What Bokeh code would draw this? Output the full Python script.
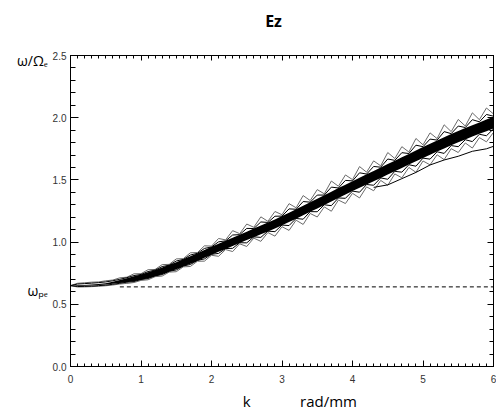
import numpy as np
from bokeh.plotting import figure
from bokeh.models import FixedTicker, LinearAxis, Range1d, CustomJSTickFormatter
from bokeh.embed import file_html
from bokeh.resources import INLINE

# ---------------- data ----------------
x_ticks = [0, 1, 2, 3, 4, 5, 6]
x_minor = [i / 10 for i in range(61)]
y_ticks = [0.0, 0.5, 1.0, 1.5, 2.0, 2.5]
y_tick_labels = ["0.0", "0.5", "1.0", "1.5", "2.0", "2.5"]
y_minor = [i / 10 for i in range(26)]

title_pos = [2.88]
title_text = ["Ez"]
y_label_pos = [2.46, 0.61]
y_label_text = ["ω/Ωₑ", "ωₚₑ"]
x_label_pos = [2.5, 3.66]
x_label_text = ["k", "rad/mm"]

omega_pe = 0.64
dash_k = [0.70, 6.0]

k_grid = [0.0, 0.1, 0.2, 0.3, 0.4, 0.5, 0.6, 0.7, 0.8, 0.9,
          1.0, 1.1, 1.2, 1.3, 1.4, 1.5, 1.6, 1.7, 1.8, 1.9,
          2.0, 2.1, 2.2, 2.3, 2.4, 2.5, 2.6, 2.7, 2.8, 2.9,
          3.0, 3.1, 3.2, 3.3, 3.4, 3.5, 3.6, 3.7, 3.8, 3.9,
          4.0, 4.1, 4.2, 4.3, 4.4, 4.5, 4.6, 4.7, 4.8, 4.9,
          5.0, 5.1, 5.2, 5.3, 5.4, 5.5, 5.6, 5.7, 5.8, 5.9, 6.0]

ridge = [0.650, 0.651, 0.653, 0.656, 0.660, 0.665, 0.673, 0.683, 0.694, 0.705,
         0.718, 0.733, 0.750, 0.769, 0.789, 0.810, 0.833, 0.856, 0.880, 0.905,
         0.930, 0.954, 0.978, 1.002, 1.026, 1.050, 1.074, 1.098, 1.122, 1.146,
         1.172, 1.199, 1.226, 1.254, 1.282, 1.310, 1.338, 1.366, 1.394, 1.422,
         1.450, 1.477, 1.504, 1.531, 1.558, 1.585, 1.612, 1.639, 1.666, 1.693,
         1.720, 1.746, 1.772, 1.798, 1.823, 1.848, 1.871, 1.894, 1.916, 1.938, 1.960]

core_hw = [0.000, 0.003, 0.003, 0.004, 0.004, 0.005, 0.008, 0.012, 0.016, 0.020,
           0.022, 0.024, 0.026, 0.027, 0.028, 0.029, 0.030, 0.030, 0.031, 0.031,
           0.032, 0.032, 0.033, 0.033, 0.034, 0.034, 0.035, 0.035, 0.036, 0.036,
           0.037, 0.037, 0.038, 0.038, 0.038, 0.039, 0.039, 0.039, 0.040, 0.040,
           0.040, 0.041, 0.041, 0.041, 0.042, 0.042, 0.042, 0.043, 0.043, 0.043,
           0.044, 0.044, 0.044, 0.045, 0.045, 0.045, 0.046, 0.046, 0.046, 0.047, 0.047]

up_outer = [0.000, 0.018, 0.020, 0.022, 0.020, 0.024, 0.022, 0.030, 0.024, 0.040,
            0.028, 0.045, 0.030, 0.050, 0.032, 0.055, 0.034, 0.058, 0.036, 0.065,
            0.038, 0.075, 0.040, 0.090, 0.042, 0.095, 0.045, 0.105, 0.045, 0.100,
            0.048, 0.110, 0.050, 0.120, 0.052, 0.112, 0.050, 0.125, 0.055, 0.118,
            0.052, 0.130, 0.058, 0.122, 0.055, 0.135, 0.060, 0.128, 0.058, 0.140,
            0.062, 0.132, 0.060, 0.145, 0.065, 0.138, 0.062, 0.145, 0.068, 0.140, 0.070]
up_inner = [0.000, 0.012, 0.013, 0.014, 0.014, 0.015, 0.016, 0.018, 0.020, 0.026,
            0.022, 0.030, 0.025, 0.034, 0.026, 0.038, 0.028, 0.040, 0.030, 0.044,
            0.031, 0.048, 0.032, 0.055, 0.034, 0.060, 0.035, 0.064, 0.036, 0.062,
            0.037, 0.068, 0.038, 0.072, 0.039, 0.068, 0.040, 0.076, 0.041, 0.074,
            0.042, 0.080, 0.043, 0.077, 0.044, 0.083, 0.045, 0.080, 0.046, 0.086,
            0.047, 0.082, 0.048, 0.090, 0.049, 0.085, 0.050, 0.090, 0.051, 0.088, 0.052]
lo_outer = [0.000, -0.012, -0.013, -0.014, -0.015, -0.016, -0.018, -0.020, -0.026, -0.030,
            -0.026, -0.036, -0.028, -0.042, -0.030, -0.048, -0.032, -0.052, -0.034, -0.058,
            -0.036, -0.068, -0.038, -0.078, -0.040, -0.085, -0.042, -0.092, -0.045, -0.098,
            -0.048, -0.105, -0.050, -0.112, -0.052, -0.108, -0.055, -0.118, -0.056, -0.112,
            -0.058, -0.122, -0.060, -0.118, -0.062, -0.128, -0.064, -0.122, -0.066, -0.132,
            -0.068, -0.125, -0.070, -0.135, -0.072, -0.128, -0.074, -0.138, -0.076, -0.132, -0.078]
lo_inner = [0.000, -0.008, -0.009, -0.010, -0.010, -0.011, -0.012, -0.014, -0.016, -0.022,
            -0.018, -0.026, -0.021, -0.030, -0.023, -0.034, -0.025, -0.036, -0.027, -0.040,
            -0.028, -0.045, -0.030, -0.052, -0.031, -0.056, -0.032, -0.060, -0.034, -0.062,
            -0.035, -0.066, -0.036, -0.070, -0.037, -0.066, -0.038, -0.073, -0.039, -0.070,
            -0.040, -0.076, -0.041, -0.074, -0.042, -0.080, -0.043, -0.077, -0.044, -0.083,
            -0.045, -0.079, -0.046, -0.085, -0.047, -0.081, -0.048, -0.086, -0.049, -0.083, -0.050]

k_low = [4.3, 4.5, 4.7, 4.9, 5.1, 5.3, 5.5, 5.7, 5.9, 6.0]
w_low = [1.44, 1.46, 1.51, 1.56, 1.62, 1.66, 1.69, 1.73, 1.75, 1.77]

# ---------------- figure ----------------
p = figure(frame_width=423, frame_height=311,
           min_border_left=70, min_border_right=3, min_border_top=55, min_border_bottom=46,
           x_range=Range1d(0, 6), y_range=Range1d(0, 2.5),
           output_backend="svg", toolbar_location=None)
p.grid.visible = False
p.outline_line_color = "black"
p.background_fill_color = "white"
p.border_fill_color = "white"

kg = np.array(k_grid)
rd = np.array(ridge)
chw = np.array(core_hw)

p.varea(x=kg, y1=rd - chw, y2=rd + chw, fill_color="black")

grey = "#6a6a6a"
p.line(kg, rd + np.array(up_outer), line_color=grey, line_width=1)
p.line(kg, rd + np.array(lo_outer), line_color=grey, line_width=1)
p.line(kg, rd + np.array(up_inner), line_color="black", line_width=1)
p.line(kg, rd + np.array(lo_inner), line_color="black", line_width=1)
p.line(k_low, w_low, line_color="black", line_width=1)

p.line(dash_k, [omega_pe, omega_pe], line_color="black", line_width=1, line_dash="4 3")

# ---------------- axes ----------------
xt = FixedTicker(ticks=x_ticks, minor_ticks=x_minor)
yt = FixedTicker(ticks=y_ticks, minor_ticks=y_minor)

def style(ax, ticker, major_in, minor_in, show_labels):
    ax.ticker = ticker
    ax.axis_line_color = "black"
    ax.major_tick_line_color = "black"
    ax.minor_tick_line_color = "black"
    ax.major_tick_in = major_in
    ax.major_tick_out = 0
    ax.minor_tick_in = minor_in
    ax.minor_tick_out = 0
    if show_labels:
        ax.major_label_text_font = "Liberation Sans"
        ax.major_label_text_font_size = "10px"
        ax.major_label_text_color = "#333333"
    else:
        ax.formatter = CustomJSTickFormatter(code="return ''")
        ax.major_label_standoff = 0

style(p.xaxis[0], xt, 6, 3, True)
p.xaxis[0].major_label_standoff = 8
style(p.yaxis[0], yt, 8, 5, True)
p.yaxis[0].major_label_standoff = 4
p.yaxis[0].major_label_overrides = {t: s for t, s in zip(y_ticks, y_tick_labels)}

top = LinearAxis()
style(top, xt, 5, 3, False)
right = LinearAxis()
style(right, yt, 6, 4, False)
p.add_layout(top, "above")
p.add_layout(right, "right")

# text axes carrying the title and axis titles
def text_axis(pos, texts, size, bold=False):
    ax = LinearAxis(ticker=FixedTicker(ticks=pos, minor_ticks=[]))
    ax.major_label_overrides = {t: s for t, s in zip(pos, texts)}
    ax.axis_line_color = None
    ax.major_tick_line_color = None
    ax.minor_tick_line_color = None
    ax.major_tick_in = 0
    ax.major_tick_out = 0
    ax.major_label_text_font = "Open Sans"
    ax.major_label_text_font_size = size
    ax.major_label_text_font_style = "bold" if bold else "normal"
    ax.major_label_text_color = "black"
    return ax

tl = text_axis(title_pos, title_text, "16px", bold=True)
tl.major_label_standoff = 24
p.add_layout(tl, "above")
yl = text_axis(y_label_pos, y_label_text, "14px")
yl.major_label_standoff = 2
p.add_layout(yl, "left")
xl = text_axis(x_label_pos, x_label_text, "15px")
xl.major_label_standoff = 5
p.add_layout(xl, "below")

open("out.html", "w").write(file_html(p, INLINE))
